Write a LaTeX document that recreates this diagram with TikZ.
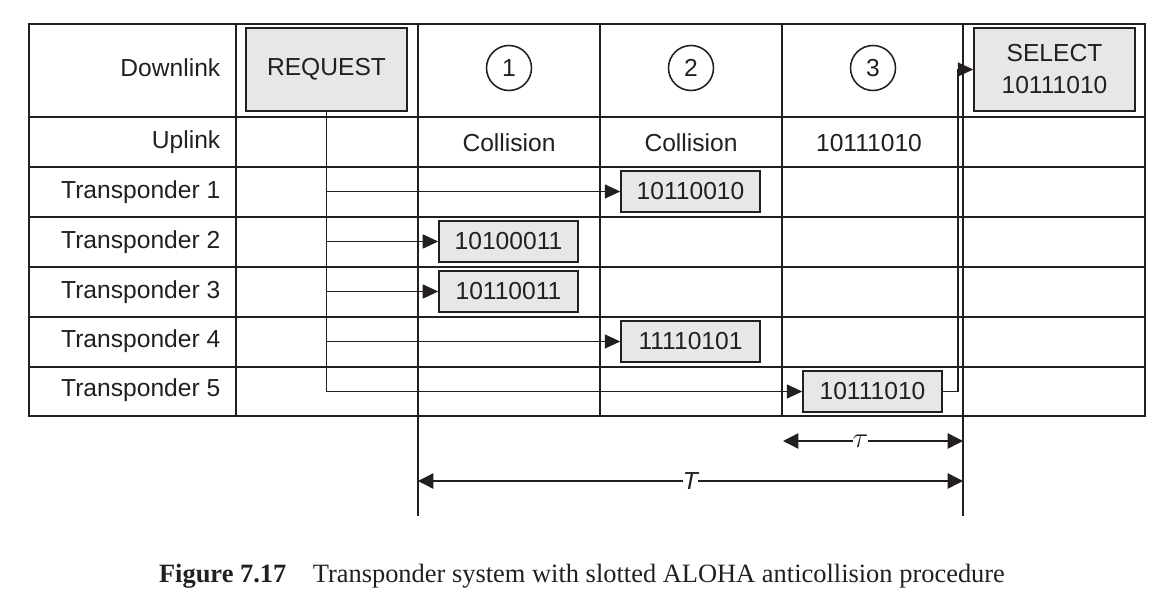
\documentclass[tikz,border=0pt]{standalone}
\usepackage{fontspec}
\setmainfont{Liberation Serif}
\setsansfont{Liberation Sans}
\usetikzlibrary{arrows.meta}
\definecolor{ink}{HTML}{231F20}
\definecolor{boxgray}{HTML}{E6E7E8}

\begin{document}
\begin{tikzpicture}[
  x=0.025cm, y=-0.025cm,
  grid/.style={draw=ink, line width=1.6pt},
  thin/.style={draw=ink, line width=0.9pt},
  label/.style={text=ink, inner sep=1pt, font=\sffamily\fontsize{17.5}{22.8}\selectfont},
  rowlabel/.style={label, anchor=base east},
  cmdbox/.style={label, draw=ink, line width=1.1pt, fill=boxgray, align=center, minimum width=4.025cm, minimum height=2.075cm},
  msgbox/.style={label, draw=ink, line width=1.1pt, fill=boxgray, minimum width=3.475cm, minimum height=1.025cm},
  slot/.style={label, draw=ink, line width=1.1pt, circle, minimum size=1.125cm},
  arrow/.style={-{Triangle[length=11pt, width=10pt]}, draw=ink, line width=1pt},
  dim/.style={{Triangle[length=11pt, width=11pt]}-{Triangle[length=11pt, width=11pt]}, draw=ink, line width=1pt},
  dimlabel/.style={label, fill=white, inner sep=0pt}
]
  \useasboundingbox (0,0) rectangle (1174,602);

  % table
  \draw[grid] (29,24) rectangle (1145,416);
  \foreach \y in {117,167,217,267,317,367}
    \draw[grid] (29,\y) -- (1145,\y);
  \foreach \x in {236,418,600,782,963}
    \draw[grid] (\x,24) -- (\x,416);
  \foreach \x in {418,963}
    \draw[thin] (\x,416) -- (\x,516);

  % row labels
  \node[rowlabel] (down) at (222,77) {Downlink};
  \node[rowlabel] (up) at (222,149) {Uplink};
  \node[rowlabel] (r1) at (222,199) {Transponder 1};
  \node[rowlabel] (r2) at (222,249) {Transponder 2};
  \node[rowlabel] (r3) at (222,299) {Transponder 3};
  \node[rowlabel] (r4) at (222,347) {Transponder 4};
  \node[rowlabel] (r5) at (222,396) {Transponder 5};

  % downlink
  \node[cmdbox] (req) at (326.5,69.5) {REQUEST};
  \node[slot] (s1) at (509,68) {1};
  \node[slot] (s2) at (691,68) {2};
  \node[slot] (s3) at (873,68) {3};
  \node[cmdbox] (sel) at (1054.5,69.5) {SELECT\\10111010};

  % uplink
  \node[label, anchor=base] (u1) at (509,152) {Collision};
  \node[label, anchor=base] (u2) at (691,152) {Collision};
  \node[label, anchor=base] (u3) at (869,152) {10111010};

  % transponder answers
  \node[msgbox] (t1) at (690.5,191.5) {10110010};
  \node[msgbox] (t2) at (508.5,241.5) {10100011};
  \node[msgbox] (t3) at (508.5,291.5) {10110011};
  \node[msgbox] (t4) at (690.5,341.5) {11110101};
  \node[msgbox] (t5) at (872.5,391.5) {10111010};

  \draw[arrow] (req.south) -- (req.south |- t5) -- (t5);
  \foreach \t in {t1,t2,t3,t4}
    \draw[arrow] (req.south |- \t) -- (\t);
  \draw[arrow] (t5.east) -- ++(15,0) |- (sel);

  % timing
  \coordinate (tauA) at (783,441);
  \coordinate (tauB) at (963,441);
  \coordinate (bigA) at (418,481);
  \coordinate (bigB) at (963,481);
  \draw[dim] (tauA) -- node[dimlabel, pos=0.43, font=\fontsize{21}{24}\selectfont] (tau) {$\tau$} (tauB);
  \draw[dim] (bigA) -- node[dimlabel, pos=0.5] (per) {\itshape T} (bigB);

  % caption
  \node[text=ink, anchor=base, font=\rmfamily\fontsize{18.8}{22}\selectfont] (cap) at (582,582)
    {\textbf{Figure 7.17}\hspace{1em}Transponder system with slotted ALOHA anticollision procedure};
\end{tikzpicture}
\end{document}
